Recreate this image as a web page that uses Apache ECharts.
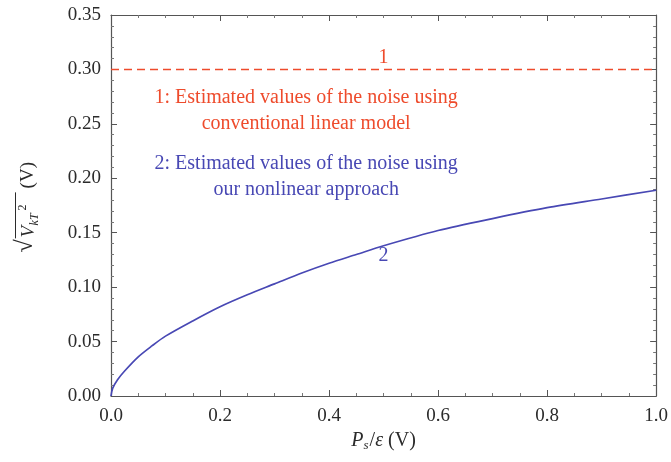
<!DOCTYPE html>
<html>
<head>
<meta charset="utf-8">
<script src="https://cdn.jsdelivr.net/npm/echarts@6/dist/echarts.min.js"></script>
<style>
  html, body { margin: 0; padding: 0; background: #fff; }
  #main { width: 671px; height: 462px; }
</style>
</head>
<body>
<div id="main"></div>
<script>
// data
var xVals = [0, 0.003, 0.012, 0.025, 0.05, 0.075, 0.1, 0.15, 0.2, 0.25, 0.3, 0.35, 0.4, 0.45, 0.5, 0.6, 0.7, 0.8, 0.9, 1.0];
var nonlinearVals = [0, 0.007, 0.015, 0.023, 0.036, 0.046, 0.055, 0.069, 0.082, 0.093, 0.103, 0.113, 0.122, 0.130, 0.138, 0.152, 0.163, 0.173, 0.181, 0.189];
var linearX = [0, 1.0];
var linearVals = [0.30, 0.30];
var xTicks = [0, 0.2, 0.4, 0.6, 0.8, 1.0];
var yTicks = [0, 0.05, 0.10, 0.15, 0.20, 0.25, 0.30, 0.35];

var red = '#ee4b2c';
var blue = '#4848b4';
var txt = '#2b2b2b';
var font = '"Liberation Serif", "DejaVu Serif", serif';

var myChart = echarts.init(document.getElementById('main'));

function pairs(xs, ys) {
	var out = [];
	for (var i = 0; i < xs.length; i++) out.push([xs[i], ys[i]]);
	return out;
}

function axisCommon(isX) {
	return {
		axisLine: { show: true, onZero: false, lineStyle: { color: '#555', width: 1.2 } },
		axisTick: { show: true, inside: true, length: 6, lineStyle: { color: '#555' } },
		minorTick: { show: true, splitNumber: isX ? 4 : 5, length: 3, lineStyle: { color: '#777' } },
		splitLine: { show: false }
	};
}

var xAxisBase = axisCommon(true);
var yAxisBase = axisCommon(false);

option = {
	animation: false,
	grid: { left: 111, right: 13, top: 15, bottom: 66 },
	xAxis: [
		Object.assign({}, xAxisBase, {
			type: 'value', min: xTicks[0], max: xTicks[xTicks.length - 1], interval: 0.2,
			axisLabel: { fontFamily: font, fontSize: 19, color: txt, margin: 11,
				formatter: function (v) { return v.toFixed(1); } },
			name: '{i|P}{sub|s}{n|/}{i|ε}{n| (V)}',
			nameLocation: 'middle', nameGap: 31,
			nameTextStyle: {
				rich: {
					i: { fontFamily: font, fontSize: 20, fontStyle: 'italic', color: txt },
					n: { fontFamily: font, fontSize: 20, color: txt },
					sub: { fontFamily: font, fontSize: 13, fontStyle: 'italic', color: txt, verticalAlign: 'bottom', padding: [10, 1, 0, 0] }
				}
			}
		}),
		Object.assign({}, xAxisBase, {
			type: 'value', position: 'top', min: xTicks[0], max: xTicks[xTicks.length - 1], interval: 0.2,
			axisLabel: { show: false }
		})
	],
	yAxis: [
		Object.assign({}, yAxisBase, {
			type: 'value', min: yTicks[0], max: yTicks[yTicks.length - 1], interval: 0.05,
			axisLabel: { fontFamily: font, fontSize: 19, color: txt, margin: 10,
				formatter: function (v) { return v.toFixed(2); } }
		}),
		Object.assign({}, yAxisBase, {
			type: 'value', position: 'right', min: yTicks[0], max: yTicks[yTicks.length - 1], interval: 0.05,
			axisLabel: { show: false }
		})
	],
	series: [
		{
			type: 'line', name: 'linear',
			data: pairs(linearX, linearVals),
			showSymbol: false,
			lineStyle: { color: red, width: 1.6, type: [8, 5] },
			markPoint: {
				symbol: 'circle', symbolSize: 0,
				label: { show: true, fontFamily: font, color: red, fontSize: 20, lineHeight: 26, align: 'center' },
				data: [
					{ coord: [0.5, 0.311], label: { formatter: '1' } },
					{ coord: [0.358, 0.262], label: { formatter: '1: Estimated values of the noise using\nconventional linear model' } }
				]
			}
		},
		{
			type: 'line', name: 'nonlinear',
			data: pairs(xVals, nonlinearVals),
			smooth: 0.3,
			showSymbol: false,
			lineStyle: { color: blue, width: 1.7 },
			markPoint: {
				symbol: 'circle', symbolSize: 0,
				label: { show: true, fontFamily: font, color: blue, fontSize: 20, lineHeight: 26, align: 'center' },
				data: [
					{ coord: [0.5, 0.129], label: { formatter: '2' } },
					{ coord: [0.358, 0.2015], label: { formatter: '2: Estimated values of the noise using\nour nonlinear approach' } }
				]
			}
		}
	],
	graphic: [
		{
			type: 'group',
			left: 13, top: 162,
			rotation: Math.PI / 2,
			children: [
				{ type: 'text', x: 0, y: 0, style: { text: '√', font: '24px ' + font, fill: txt } },
				{ type: 'line', shape: { x1: 14, y1: 2, x2: 60, y2: 2 }, style: { stroke: txt, lineWidth: 1 } },
				{ type: 'text', x: 15, y: 6, style: { text: 'V', font: 'italic 19px ' + font, fill: txt } },
				{ type: 'text', x: 27, y: 15, style: { text: 'kT', font: 'italic 12px ' + font, fill: txt } },
				{ type: 'text', x: 42, y: 3, style: { text: '2', font: '12px ' + font, fill: txt } },
				{ type: 'text', x: 64, y: 5, style: { text: '(V)', font: '19px ' + font, fill: txt } }
			]
		}
	]
};

myChart.setOption(option);
</script>
</body>
</html>
